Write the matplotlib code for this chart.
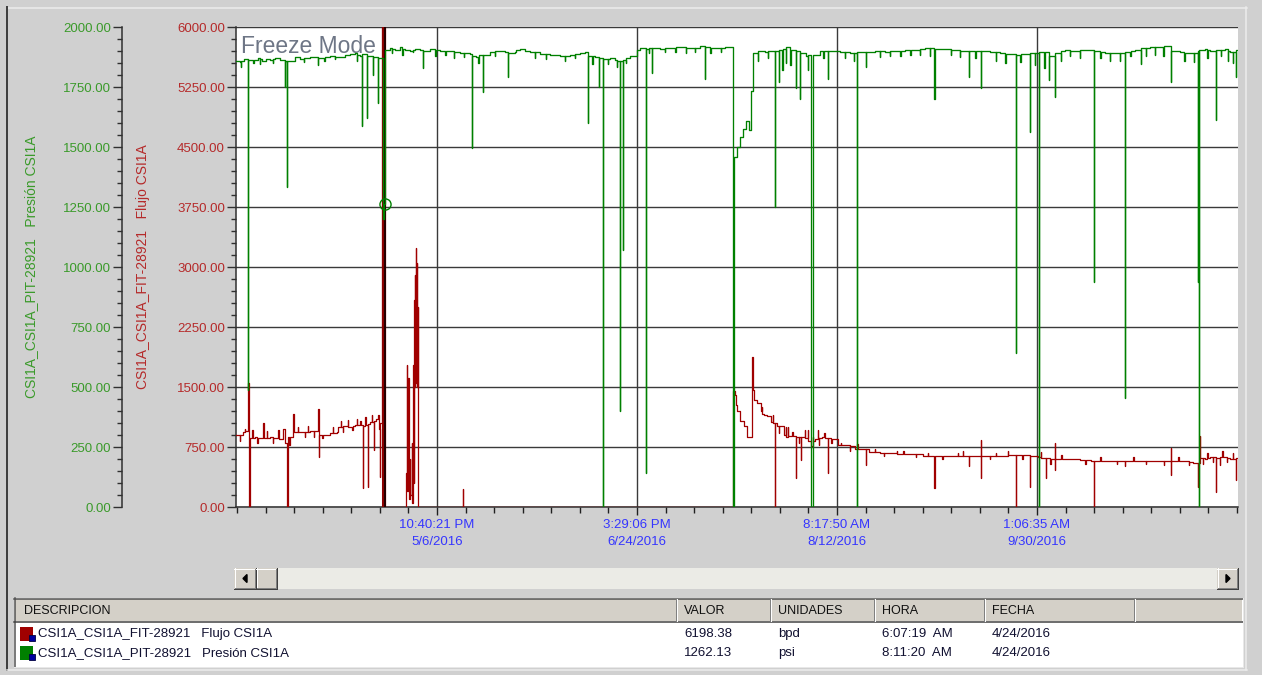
import pandas as pd
import matplotlib
matplotlib.use('Agg')
import matplotlib.pyplot as plt
import matplotlib.dates as mdates
from matplotlib.ticker import FixedLocator, MultipleLocator, FormatStrFormatter
from matplotlib.patches import Rectangle, Polygon
from matplotlib.lines import Line2D

plt.rcParams['font.family'] = ['Liberation Sans', 'DejaVu Sans']

# ---- data ----
START = pd.Timestamp('2016-03-19 00:00')
END = pd.Timestamp('2016-11-17 23:45')

TICK_TIMES = ['2016-05-06 22:40:21', '2016-06-24 15:29:06',
              '2016-08-12 08:17:50', '2016-09-30 01:06:35']
TICK_LABELS = ['10:40:21 PM\n5/6/2016', '3:29:06 PM\n6/24/2016',
               '8:17:50 AM\n8/12/2016', '1:06:35 AM\n9/30/2016']

FLOW_LABEL = 'CSI1A_CSI1A_FIT-28921   Flujo CSI1A'
PRES_LABEL = 'CSI1A_CSI1A_PIT-28921   Presión CSI1A'

# pressure trace, days since START
pres_days = [0.00, 0.97, 1.95, 2.92, 3.02, 4.14, 4.40, 5.36, 6.33, 7.30, 8.28, 9.50,
             10.71, 11.93, 12.03, 12.42, 12.52, 14.37, 15.58, 18.02, 19.97, 20.07,
             22.89, 25.32, 26.54, 27.76, 28.98, 30.19, 30.68, 30.78, 31.90, 32.00,
             33.36, 33.46, 34.58, 34.68, 35.79, 36.04, 36.40, 37.50, 38.72, 39.93,
             41.15, 42.37, 43.59, 44.80, 45.53, 45.63, 47.24, 49.67, 52.11, 54.54,
             56.98, 57.47, 57.57, 58.44, 60.14, 60.24, 61.85, 64.28, 65.50, 66.23,
             66.33, 69.15, 70.37, 71.59, 74.02, 76.46, 78.89, 81.33, 83.76, 84.98,
             85.71, 85.81, 87.42, 88.39, 88.49, 89.37, 89.47, 91.07, 92.29, 93.50,
             93.60, 94.24, 94.34, 95.94, 97.64, 98.37, 99.84, 99.94, 101.22, 101.32,
             103.24, 105.68, 108.11, 110.55, 112.98, 114.20, 114.30, 116.64, 119.07,
             121.14, 121.24, 122.00, 122.73, 123.46, 124.19, 124.92, 125.40, 125.89,
             127.60, 128.81, 130.03, 131.25, 131.35, 132.22, 132.32, 133.93, 134.03,
             135.87, 136.36, 136.46, 137.33, 137.43, 138.79, 140.01, 140.40, 142.20,
             144.15, 144.25, 145.86, 147.07, 149.51, 151.21, 151.31, 153.41, 153.51,
             155.60, 158.03, 160.47, 162.90, 165.34, 167.77, 170.08, 170.18, 172.64,
             175.08, 177.51, 178.49, 178.59, 181.41, 181.51, 183.60, 186.03, 188.47,
             189.93, 190.03, 192.12, 193.34, 193.44, 195.53, 195.63, 197.97, 198.07,
             199.43, 199.53, 201.86, 204.30, 206.73, 208.92, 209.02, 211.60, 214.04,
             216.47, 216.57, 218.91, 220.27, 220.37, 222.56, 224.99, 226.46, 227.67,
             227.77, 229.86, 232.30, 234.25, 234.35, 234.49, 234.59, 235.96, 237.17,
             238.54, 238.64, 240.83, 242.04, 243.50, 243.60, 243.99]
pres_psi = [1860, 1856, 1866, 487, 1862, 1852, 1864, 1870, 1860, 1868, 1864, 1872,
            1862, 1750, 1858, 1333, 1860, 1874, 1866, 1876, 1840, 1872,
            1878, 1874, 1884, 1886, 1892, 1880, 1588, 1886, 1621, 1880,
            1800, 1876, 1683, 1872, 1200, 1262, 1906, 1912, 1904, 1916,
            1906, 1900, 1910, 1904, 1829, 1902, 1908, 1902, 1900, 1892,
            1886, 1496, 1880, 1876, 1729, 1884, 1896, 1902, 1894, 1792,
            1890, 1910, 1900, 1894, 1888, 1882, 1880, 1884, 1890, 1896,
            1600, 1880, 1874, 1750, 1870, 0, 1866, 1870, 1862, 400,
            1858, 1070, 1864, 1880, 1904, 1912, 142, 1910, 1808, 1914,
            1908, 1914, 1916, 1912, 1920, 1783, 1916, 1912, 1916,
            0, 1458, 1500, 1540, 1575, 1610, 1570, 1733, 1892,
            1900, 1896, 1902, 1250, 1900, 1771, 1904, 1850, 1918,
            1906, 1746, 1900, 1700, 1890, 1880, 0, 1884, 1900,
            1783, 1898, 1902, 1896, 1892, 0, 1895, 1833, 1896,
            1900, 1897, 1902, 1904, 1906, 1912, 1700, 1910, 1908,
            1904, 1900, 1792, 1898, 1746, 1900, 1896, 1892, 1886,
            642, 1884, 1888, 1563, 1890, 0, 1895, 1780, 1880,
            1710, 1890, 1903, 1900, 1906, 938, 1900, 1893, 1892,
            454, 1895, 1906, 1846, 1912, 1916, 1918, 1922, 1771,
            1900, 1894, 1892, 938, 1900, 0, 1906, 1908, 1900,
            1613, 1906, 1910, 1894, 1792, 1906, 1906]

# short pressure blips: time, extreme value, value right after
pres_blip_day = [1.20, 5.80, 9.00, 16.50, 21.50, 24.00, 29.50, 38.00, 40.50, 43.00,
                 48.50, 51.00, 53.00, 55.50, 59.00, 63.00, 68.00, 72.80, 75.50, 80.00,
                 82.50, 86.80, 90.50, 92.80, 95.00, 100.50, 104.50, 107.00, 109.50,
                 111.80, 115.50, 118.00, 127.00, 129.50, 133.00, 135.00, 139.30, 143.00,
                 148.30, 150.50, 156.80, 159.20, 161.80, 164.20, 166.50, 169.00, 174.00,
                 176.30, 180.00, 185.00, 187.30, 191.00, 194.50, 196.80, 200.80, 203.00,
                 205.50, 210.50, 212.80, 215.20, 217.80, 221.50, 223.80, 225.80, 230.90,
                 233.20, 236.50, 239.80, 241.50, 242.80]
pres_blip_psi = [1835, 1845, 1850, 1855, 1860, 1865, 1860, 1890, 1885, 1895,
                 1880, 1885, 1870, 1875, 1850, 1880, 1895, 1870, 1865, 1860,
                 1870, 1845, 1845, 1835, 1850, 1890, 1895, 1895, 1890,
                 1895, 1890, 1895, 1860, 1870, 1820, 1840, 1820, 1870,
                 1870, 1860, 1875, 1880, 1880, 1885, 1885, 1880, 1885,
                 1875, 1870, 1860, 1850, 1855, 1840, 1830, 1860, 1880,
                 1870, 1870, 1860, 1860, 1880, 1880, 1885, 1880, 1860,
                 1855, 1870, 1880, 1860, 1850]
pres_blip_back = [1858, 1866, 1868, 1870, 1876, 1876, 1885, 1908, 1910, 1906,
                  1904, 1901, 1896, 1890, 1882, 1900, 1905, 1896, 1886, 1880,
                  1886, 1878, 1868, 1860, 1870, 1912, 1912, 1915, 1914,
                  1914, 1914, 1914, 1898, 1900, 1910, 1904, 1885, 1900,
                  1895, 1893, 1898, 1899, 1902, 1905, 1908, 1911, 1906,
                  1902, 1898, 1894, 1888, 1886, 1890, 1896, 1902, 1902,
                  1903, 1897, 1893, 1892, 1900, 1914, 1917, 1920, 1893,
                  1892, 1906, 1905, 1900, 1895]

# flow trace, days since START
flow_days = [0.00, 1.78, 2.99, 3.04, 3.09, 3.29, 4.63, 6.26, 6.65, 6.75, 8.28, 9.50,
             11.13, 11.44, 11.93, 12.49, 12.59, 13.95, 14.05, 15.58, 18.02, 20.04,
             20.14, 20.24, 21.67, 22.89, 24.52, 24.84, 26.54, 27.76, 28.98, 30.92,
             31.02, 32.07, 32.17, 32.63, 33.60, 33.70, 34.09, 34.65, 34.82, 35.06,
             35.16, 35.43, 36.25, 41.32, 41.64, 41.76, 41.88, 42.01, 42.25, 42.49,
             42.74, 42.93, 43.17, 43.30, 43.42, 43.49, 43.59, 43.66, 43.76, 43.83,
             44.00, 44.08, 44.20, 44.32, 44.39, 55.20, 55.25, 121.14, 121.51, 121.76,
             122.00, 122.73, 123.70, 124.43, 125.65, 125.77, 126.14, 126.87, 127.72,
             128.57, 129.30, 130.20, 131.25, 131.30, 131.73, 132.71, 133.44, 133.93,
             133.98, 134.90, 136.36, 136.41, 137.58, 137.63, 138.55, 138.60, 140.01,
             140.98, 141.71, 141.76, 142.69, 144.15, 144.20, 145.86, 146.59, 148.29,
             150.72, 152.42, 153.41, 153.46, 154.14, 156.82, 159.25, 160.96, 161.01,
             164.13, 167.29, 170.08, 170.13, 173.86, 175.80, 175.85, 178.49, 178.54,
             181.41, 181.46, 181.51, 186.03, 189.44, 189.93, 189.98, 193.34, 193.39,
             195.29, 197.24, 197.29, 199.43, 199.48, 199.53, 203.08, 205.52, 208.19,
             208.92, 208.97, 212.82, 216.47, 216.52, 220.12, 222.56, 224.99, 227.67,
             227.72, 227.77, 231.08, 233.03, 234.25, 234.30, 234.66, 234.71, 235.96,
             237.17, 238.54, 238.59, 239.61, 239.66, 240.83, 242.04, 243.50, 243.55,
             243.99]
flow_bpd = [900, 941, 962, 1553, 0, 860, 870, 858, 1054, 862, 870, 862,
            850, 980, 800, 0, 875, 1162, 941, 935, 945, 1225,
            625, 900, 900, 920, 941, 1000, 1012, 1000, 1025, 237,
            1010, 254, 1040, 1066, 712, 1075, 1100, 1150, 980, 379,
            1050, 6200, 0, 430, 1775, 200, 1612, 100, 600, 150,
            800, 50, 1775, 300, 2587, 1500, 2900, 1600, 3237, 1550,
            3050, 1500, 2500, 1500, 0, 225, 0, 1450, 1400, 1280,
            1200, 1075, 1012, 870, 1875, 1460, 1337, 1300, 1206,
            1150, 1142, 1062, 0, 1050, 1016, 1010, 900, 1000,
            880, 887, 362, 870, 593, 880, 960, 862, 762,
            850, 960, 860, 870, 425, 860, 850, 775, 770,
            725, 720, 530, 720, 687, 680, 670, 700, 660,
            665, 640, 237, 640, 640, 680, 640, 512, 640,
            837, 362, 640, 635, 656, 0, 650, 256, 640,
            620, 362, 610, 805, 465, 594, 600, 590, 581,
            0, 580, 578, 512, 575, 575, 580, 570, 737,
            403, 575, 570, 550, 256, 550, 887, 612, 600,
            620, 192, 610, 520, 630, 625, 600, 337, 612,
            612]

# short flow blips: time, extreme value, value right after
flow_blip_day = [1.00, 2.20, 4.00, 5.20, 7.50, 9.00, 10.30, 13.00, 15.00, 16.80,
                 17.50, 19.00, 21.00, 23.50, 25.50, 26.00, 27.20, 28.30, 29.50, 30.30,
                 31.50, 33.00, 128.00, 130.80, 132.20, 134.30, 135.50, 137.00, 139.20,
                 140.50, 142.00, 143.30, 145.00, 147.20, 149.50, 151.30, 155.50, 157.80,
                 162.50, 165.50, 168.50, 172.00, 177.00, 183.50, 185.00, 188.00, 191.50,
                 196.00, 198.30, 201.00, 206.80, 210.50, 214.50, 218.50, 221.50, 226.00,
                 229.50, 232.00, 235.50, 236.50, 237.80, 240.20, 241.30, 242.80]
flow_blip_bpd = [820, 980, 960, 800, 950, 800, 960, 780, 1000, 880,
                 1010, 880, 860, 1000, 1080, 940, 1090, 960, 1100, 1080,
                 1120, 1150, 1250, 1150, 930, 1000, 940, 800, 960,
                 880, 780, 930, 800, 800, 700, 790, 720, 640,
                 700, 620, 680, 600, 700, 600, 670, 700, 600,
                 690, 540, 650, 540, 630, 540, 620, 540, 520,
                 620, 520, 540, 680, 560, 700, 560, 680]
flow_blip_back = [905, 945, 865, 860, 865, 865, 855, 880, 935, 940,
                  940, 945, 905, 930, 1005, 1010, 1005, 1015, 1020, 1020,
                  1030, 1060, 1160, 1050, 1012, 885, 885, 875, 830,
                  820, 865, 862, 850, 772, 760, 725, 682, 678,
                  662, 660, 640, 640, 640, 638, 636, 650, 645,
                  615, 605, 598, 590, 580, 578, 575, 578, 572,
                  572, 560, 610, 615, 620, 625, 615, 600]

# cursor / table
CURSOR_TIME = '2016-04-24 06:07:19'
TAGS = [FLOW_LABEL, PRES_LABEL]
VALUES = ['6198.38', '1262.13']
UNITS = ['bpd', 'psi']
HORAS = ['6:07:19  AM', '8:11:20  AM']
FECHAS = ['4/24/2016', '4/24/2016']
HEADERS = ['DESCRIPCION', 'VALOR', 'UNIDADES', 'HORA', 'FECHA']

RED = '#a00000'
GREEN = '#008000'
RED_TXT = '#b52a2a'
GREEN_TXT = '#3a9a2a'
BG = '#d0d0d0'

W, H = 1262, 675


def with_blips(days, vals, b_day, b_val, b_back):
    pts = list(zip(days, vals))
    for d, v, bk in zip(b_day, b_val, b_back):
        pts += [(d, v), (d + 0.08, bk)]
    pts.sort()
    return [p[0] for p in pts], [p[1] for p in pts]


fig = plt.figure(figsize=(W / 100, H / 100), dpi=100, facecolor=BG)


def box(x0, y0, x1, y1, fc, ec='none', lw=0, z=1):
    fig.add_artist(Rectangle((x0 / W, 1 - y1 / H), (x1 - x0) / W, (y1 - y0) / H,
                             transform=fig.transFigure, facecolor=fc,
                             edgecolor=ec, linewidth=lw, zorder=z))


def line(xs, ys, color, lw=1.0, z=2):
    fig.add_artist(Line2D([x / W for x in xs], [1 - y / H for y in ys],
                          transform=fig.transFigure, color=color,
                          linewidth=lw * 0.72, zorder=z))


def raised(x0, y0, x1, y1):
    box(x0, y0, x1, y1, '#d4d0c8')
    line([x0, x1], [y0 + 0.5, y0 + 0.5], 'white')
    line([x0 + 0.5, x0 + 0.5], [y0, y1], 'white')
    line([x0, x1], [y1 - 0.5, y1 - 0.5], '#404040')
    line([x1 - 0.5, x1 - 0.5], [y0, y1], '#404040')
    line([x0 + 1, x1 - 1], [y1 - 1.5, y1 - 1.5], '#808080')
    line([x1 - 1.5, x1 - 1.5], [y0 + 1, y1 - 1], '#808080')


def ftext(x, y, s, **kw):
    fig.text(x / W, 1 - y / H, s, va='center', **kw)


# ---- window frame ----
line([7, 1247], [7.5, 7.5], '#ececec', 1.5)
line([7, 7], [7, 670], '#404040', 2)
line([1246, 1246], [7, 670], '#ececec', 1.5)
line([7, 1247], [670, 670], '#ececec', 1.5)

# ---- trend axes ----
ax = fig.add_axes([236 / W, 1 - 507 / H, 1002 / W, 480 / H])
ax.set_facecolor('white')
ax2 = ax.twinx()

t0 = mdates.date2num(START)
f_days, f_vals = with_blips(flow_days, flow_bpd, flow_blip_day, flow_blip_bpd, flow_blip_back)
p_days, p_vals = with_blips(pres_days, pres_psi, pres_blip_day, pres_blip_psi, pres_blip_back)

ax.plot([t0 + d for d in f_days], f_vals, color=RED, lw=0.9,
        drawstyle='steps-post', zorder=3)
ax2.plot([t0 + d for d in p_days], p_vals, color=GREEN, lw=0.95,
         drawstyle='steps-post', zorder=3)

# cursor
cur = mdates.date2num(pd.Timestamp(CURSOR_TIME))
ax.axvline(cur - 0.5, color='#8b0000', lw=2.2, zorder=4)
ax.axvline(cur, color='#1a0000', lw=1.3, zorder=4)
ax2.plot([cur], [float(VALUES[1])], 'o', ms=8, mfc='none', mec=GREEN, mew=1, zorder=5)

ax.set_xlim(t0, mdates.date2num(END))
ax.set_ylim(0, 6000)
ax2.set_ylim(0, 2000)

# time axis
ticks = [mdates.date2num(pd.Timestamp(t)) for t in TICK_TIMES]
step = ticks[1] - ticks[0]
minors = [ticks[0] + step * k / 7 for k in range(-7, 36)]
ax.xaxis.set_major_locator(FixedLocator(ticks))
ax.xaxis.set_minor_locator(FixedLocator(minors))
ax.set_xticklabels(TICK_LABELS)
for lbl in ax.get_xticklabels():
    lbl.set_linespacing(1.55)
ax.tick_params(axis='x', which='major', length=6, width=1, color='#202020',
               labelcolor='#3535ff', labelsize=9.5, pad=2.5)
ax.tick_params(axis='x', which='minor', length=4, width=1, color='#202020')

# flow axis (red)
ax.yaxis.set_major_locator(MultipleLocator(750))
ax.yaxis.set_minor_locator(MultipleLocator(150))
ax.yaxis.set_major_formatter(FormatStrFormatter('%.2f'))
ax.tick_params(axis='y', which='major', length=6.5, width=1, color='#303030',
               labelcolor=RED_TXT, labelsize=9.5, pad=1.5)
ax.tick_params(axis='y', which='minor', length=3.5, width=1, color='#303030')
ax.set_ylabel(FLOW_LABEL, color=RED_TXT, fontsize=10)
ax.yaxis.set_label_coords((150 - 236) / 1002, 0.5)

# pressure axis (green), moved to the far left
ax2.spines['left'].set_visible(True)
ax2.spines['left'].set_position(('axes', (122 - 236) / 1002))
ax2.spines['left'].set_color('#303030')
ax2.spines['left'].set_linewidth(1.1)
ax2.yaxis.tick_left()
ax2.yaxis.set_major_locator(MultipleLocator(250))
ax2.yaxis.set_minor_locator(MultipleLocator(50))
ax2.yaxis.set_major_formatter(FormatStrFormatter('%.2f'))
ax2.tick_params(axis='y', which='major', length=6.5, width=1, color='#303030',
                labelcolor=GREEN_TXT, labelsize=9.5, pad=1.5)
ax2.tick_params(axis='y', which='minor', length=3.5, width=1, color='#303030')
ax2.set_ylabel(PRES_LABEL, color=GREEN_TXT, fontsize=10)
ax2.yaxis.set_label_position('left')
ax2.yaxis.set_label_coords((38 - 236) / 1002, 0.5)

for a in (ax, ax2):
    a.spines['top'].set_visible(False)
    a.spines['right'].set_visible(False)
ax2.spines['bottom'].set_visible(False)
for s in ('left', 'bottom'):
    ax.spines[s].set_color('#303030')
    ax.spines[s].set_linewidth(1.1)

ax.grid(True, which='major', color='#3a3a3a', lw=1.0)
ax.set_axisbelow(True)

ax.text(0.0045, 0.9465, 'Freeze Mode', transform=ax.transAxes, fontsize=16.5,
        color='#6e7686', va='baseline', ha='left', zorder=6)

# ---- scroll bar ----
box(234, 568, 1238, 589, '#ebebe6')
raised(234, 568, 256, 589)
raised(256, 568, 277, 589)
raised(1217, 568, 1238, 589)
fig.add_artist(Polygon([(243 / W, 1 - 578.5 / H), (247 / W, 1 - 574.5 / H), (247 / W, 1 - 582.5 / H)],
                       closed=True, transform=fig.transFigure, color='black', zorder=3))
fig.add_artist(Polygon([(1230 / W, 1 - 578.5 / H), (1226 / W, 1 - 574.5 / H), (1226 / W, 1 - 582.5 / H)],
                       closed=True, transform=fig.transFigure, color='black', zorder=3))

# ---- value table ----
box(14, 598, 1243, 667, 'white')
box(15, 599, 1242, 621, '#d4d0c8')
line([14, 1243], [598.5, 598.5], '#505050', 1.5)
line([14.5, 14.5], [598, 667], '#505050', 1.5)
line([14, 1243], [621.5, 621.5], '#404040', 1.5)
line([1242.5, 1242.5], [598, 667], '#e8e8e8', 1)
line([14, 1243], [666.5, 666.5], '#e8e8e8', 1)
col_x = [24, 684, 778, 882, 992]
for xs in (676, 770, 874, 984, 1134):
    line([xs, xs], [599, 621], '#808080')
    line([xs + 1, xs + 1], [599, 621], 'white')
for x, h in zip(col_x, HEADERS):
    ftext(x, 611, h, fontsize=9, color='#101010')

row_y = [634, 653]
row_col = [RED, GREEN]
for y, c, tag, v, u, hr, fe in zip(row_y, row_col, TAGS, VALUES, UNITS, HORAS, FECHAS):
    box(20, y - 7, 33, y + 7, c, z=2)
    box(29, y + 1, 35, y + 7, '#0000a0', ec='#000040', lw=0.6, z=3)
    ftext(38, y, tag, fontsize=9.5, color='#101030')
    ftext(684, y, v, fontsize=9.5, color='#101030')
    ftext(778, y, u, fontsize=9.5, color='#101030')
    ftext(882, y, hr, fontsize=9.5, color='#101030')
    ftext(992, y, fe, fontsize=9.5, color='#101030')

fig.savefig('out.png', dpi=100, facecolor=BG)
